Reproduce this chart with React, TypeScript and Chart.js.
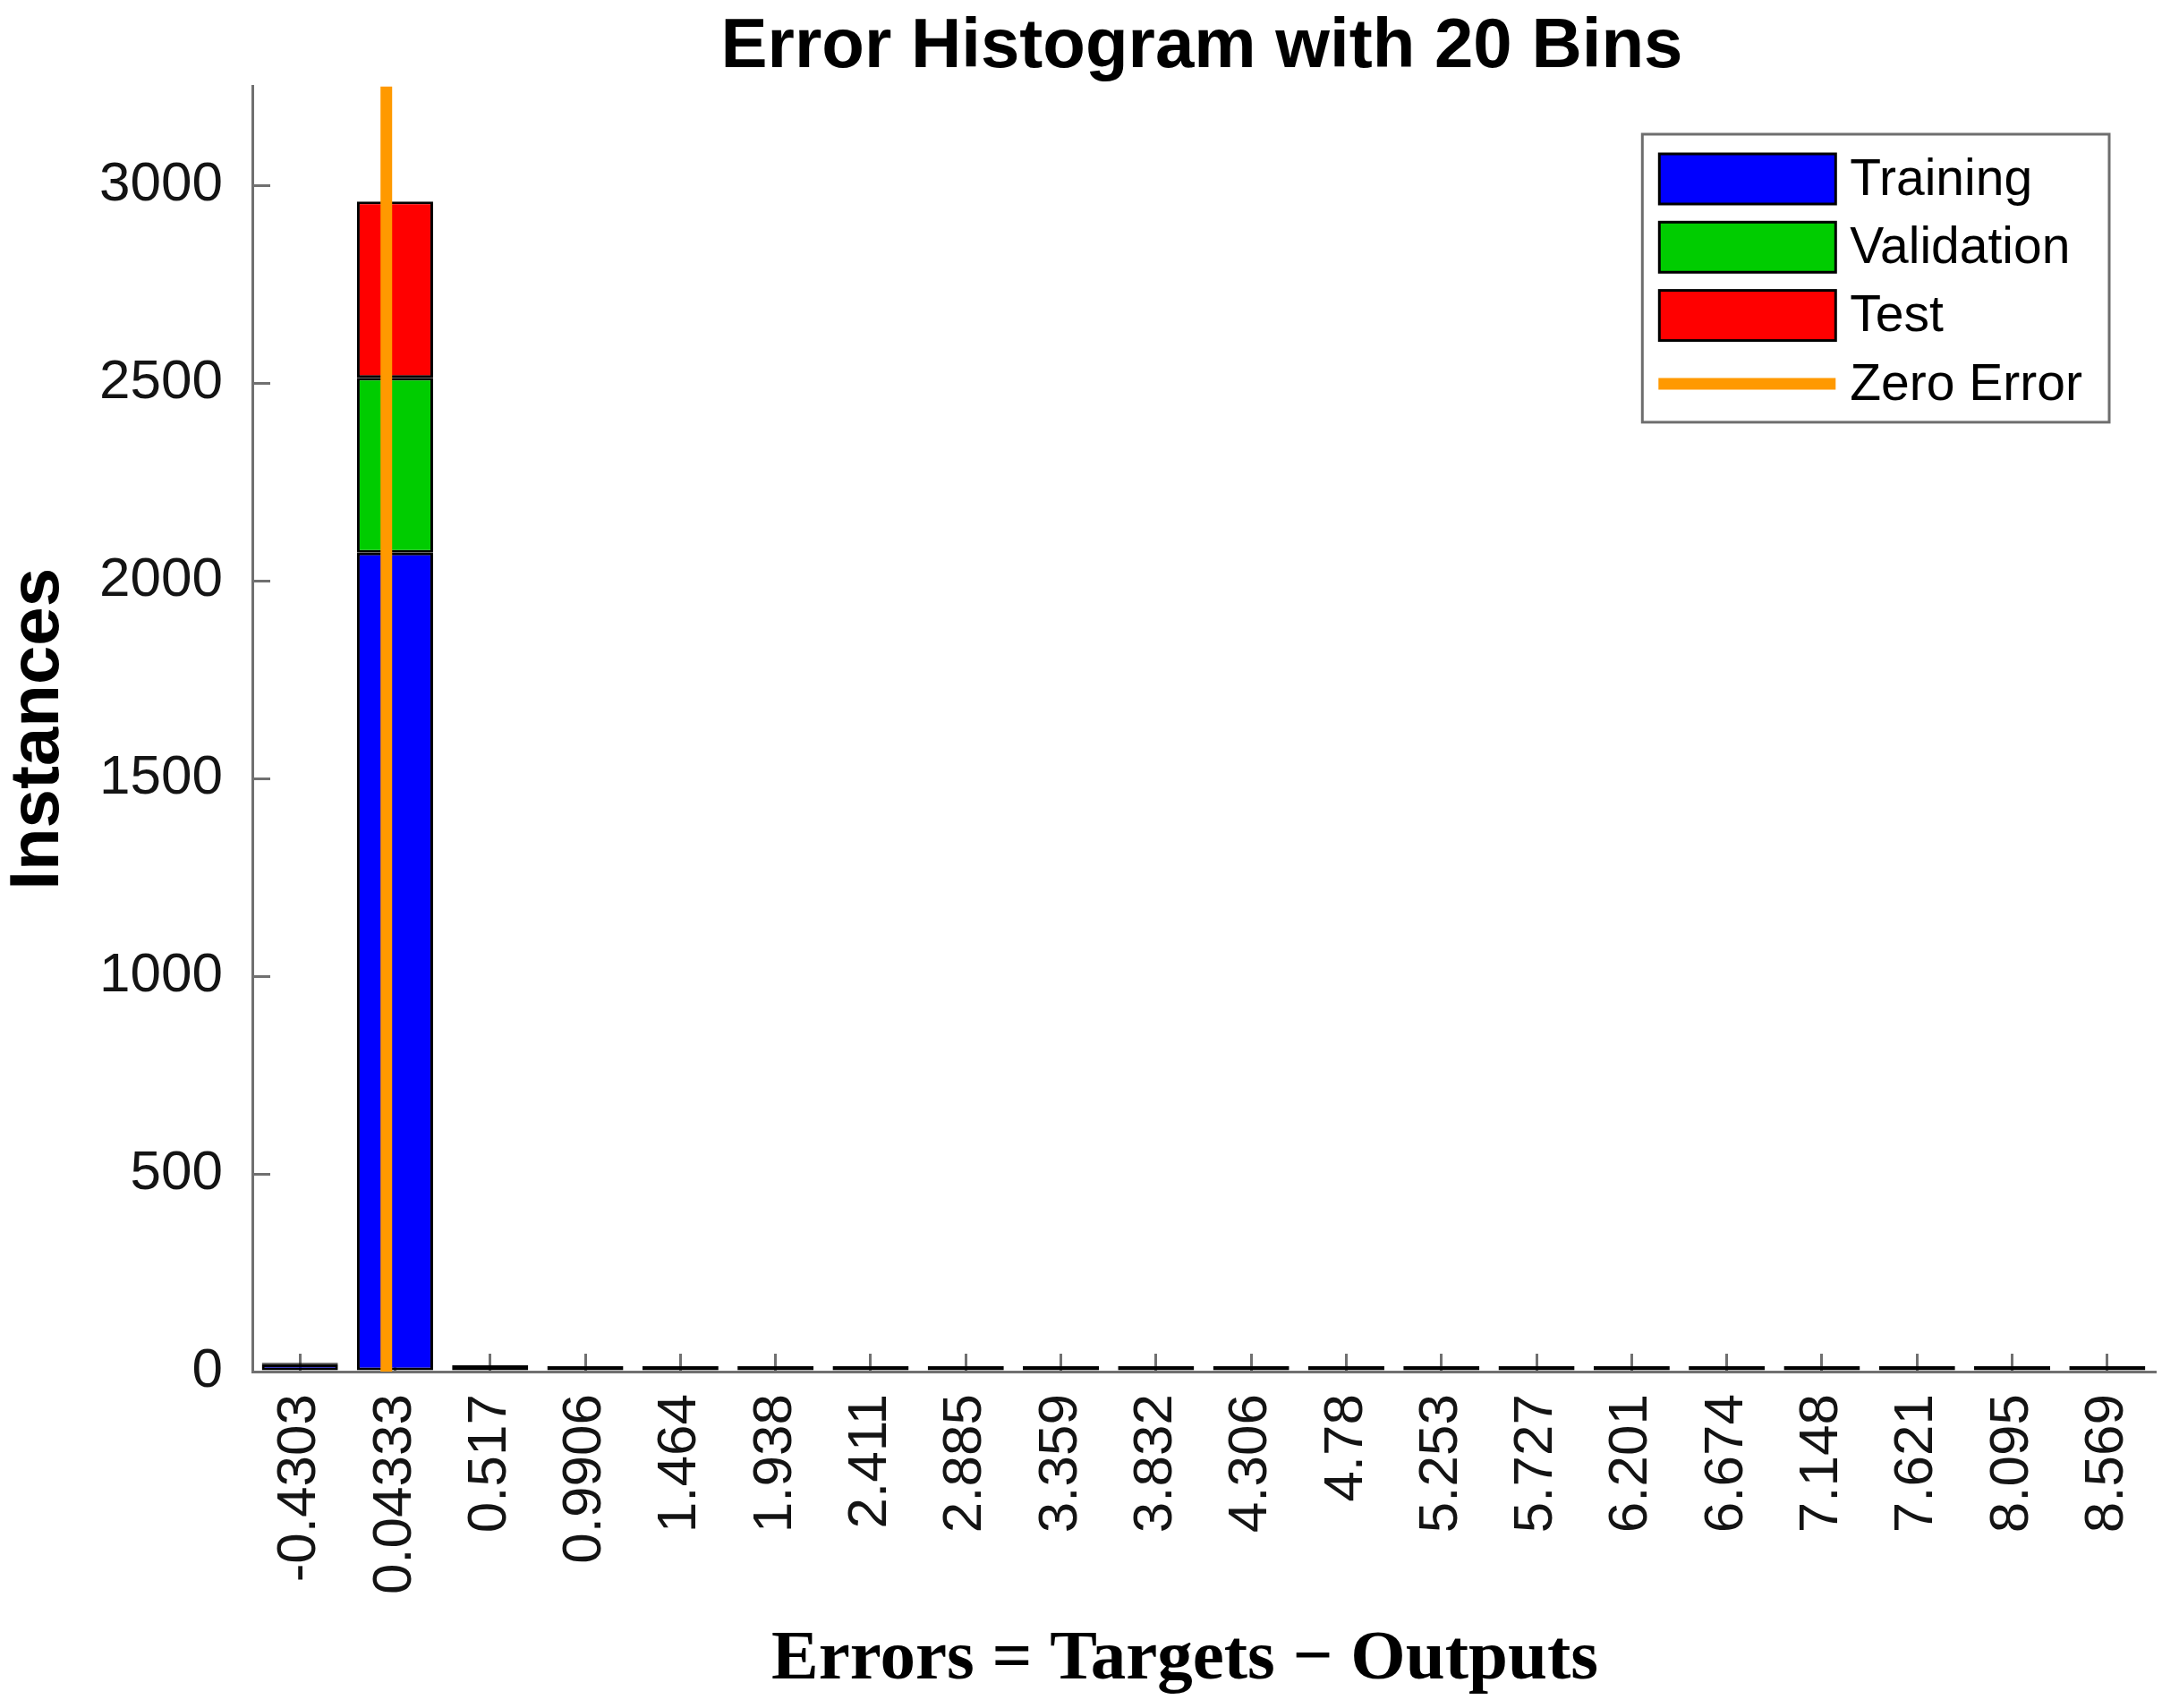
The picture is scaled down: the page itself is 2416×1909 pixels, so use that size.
import { useEffect, useRef } from 'react';
import { Chart, registerables } from 'chart.js';

Chart.register(...registerables);

// ---- data ----
const binLabels = [
  '-0.4303', '0.04333', '0.517', '0.9906', '1.464', '1.938', '2.411', '2.885', '3.359', '3.832',
  '4.306', '4.78', '5.253', '5.727', '6.201', '6.674', '7.148', '7.621', '8.095', '8.569',
];
const trainingCounts = [18, 2071, 12, 0, 0, 0, 0, 0, 0, 0, 0, 0, 0, 0, 0, 0, 0, 0, 0, 0];
const validationCounts = [2, 442, 2, 0, 0, 0, 0, 0, 0, 0, 0, 0, 0, 0, 0, 0, 0, 0, 0, 0];
const testCounts = [2, 446, 1, 0, 0, 0, 0, 0, 0, 0, 0, 0, 0, 0, 0, 0, 0, 0, 0, 0];
const zeroErrorX = 0;
const yTickValues = [0, 500, 1000, 1500, 2000, 2500, 3000];
const yMin = 0;
const yMax = 3250;

const seriesNames = ['Training', 'Validation', 'Test', 'Zero Error'];
const chartTitle = 'Error Histogram with 20 Bins';
const yTitle = 'Instances';
const xTitle = 'Errors = Targets \u2212 Outputs';

const SANS = '"Liberation Sans", Arial, sans-serif';
const SERIF = '"Liberation Serif", "Times New Roman", serif';
const AXIS_GRAY = '#707070';
const TEXT = '#141414';

const titlesPlugin = {
  id: 'titlesPlugin',
  afterDraw(chart: any) {
    const { ctx, chartArea } = chart;
    const cx = (chartArea.left + chartArea.right) / 2;
    ctx.save();
    ctx.fillStyle = '#000000';
    ctx.textAlign = 'center';
    ctx.textBaseline = 'middle';
    ctx.font = `bold 78px ${SANS}`;
    ctx.fillText(chartTitle, cx - 2, 53);
    ctx.font = `bold 79px ${SERIF}`;
    ctx.fillText(xTitle, cx - 21, 1856);
    ctx.restore();
  },
};

const boxLegend = {
  id: 'boxLegend',
  afterDraw(chart: any) {
    const { ctx, chartArea } = chart;
    const fontSize = 57;
    ctx.save();
    ctx.font = `${fontSize}px ${SANS}`;
    const items = chart.data.datasets.map((ds: any) => ({
      label: ds.label,
      fill: ds.backgroundColor,
      stroke: ds.borderColor,
      line: ds.type === 'line',
      lw: ds.borderWidth,
    }));
    const insetL = 19;
    const swW = 197;
    const swH = 56;
    const gap = 16;
    const insetR = 30;
    const rowH = 76.3;
    const firstRow = 50;
    const lastPad = 43;
    let maxText = 0;
    items.forEach((it: any) => {
      maxText = Math.max(maxText, ctx.measureText(it.label).width);
    });
    const width = insetL + swW + gap + maxText + insetR;
    const height = firstRow + rowH * (items.length - 1) + lastPad;
    const right = chartArea.right - 51;
    const left = right - width;
    const top = chartArea.top + 53.4;

    ctx.fillStyle = '#ffffff';
    ctx.fillRect(left, top, width, height);
    ctx.strokeStyle = '#6e6e6e';
    ctx.lineWidth = 3;
    ctx.strokeRect(left, top, width, height);

    items.forEach((it: any, i: number) => {
      const cy = top + firstRow + i * rowH;
      const sx = left + insetL;
      if (it.line) {
        ctx.beginPath();
        ctx.strokeStyle = it.stroke;
        ctx.lineWidth = it.lw;
        ctx.lineCap = 'butt';
        ctx.moveTo(sx - 1, cy);
        ctx.lineTo(sx + swW, cy);
        ctx.stroke();
      } else {
        ctx.fillStyle = it.fill;
        ctx.fillRect(sx, cy - swH / 2, swW, swH);
        ctx.strokeStyle = it.stroke;
        ctx.lineWidth = 3;
        ctx.strokeRect(sx, cy - swH / 2, swW, swH);
      }
      ctx.fillStyle = '#000000';
      ctx.textAlign = 'left';
      ctx.textBaseline = 'middle';
      ctx.fillText(it.label, sx + swW + gap, cy + 2);
    });
    ctx.restore();
  },
};

export default function App() {
  const ref = useRef<HTMLCanvasElement | null>(null);

  useEffect(() => {
    document.body.style.margin = '0';
    const canvas = ref.current;
    if (!canvas) return;

    const centers = binLabels.map(Number);
    const step = (centers[centers.length - 1] - centers[0]) / (centers.length - 1);

    const barCommon = {
      type: 'bar' as const,
      borderColor: '#000000',
      borderWidth: 3,
      borderSkipped: false,
      categoryPercentage: 1,
      barPercentage: 0.8,
      grouped: false,
      stack: 'hist',
      order: 1,
      xAxisID: 'x',
      yAxisID: 'y',
    };

    const chart = new Chart(canvas, {
      type: 'bar',
      data: {
        labels: binLabels,
        datasets: [
          { ...barCommon, label: seriesNames[0], data: trainingCounts, backgroundColor: '#0000ff', minBarLength: 6 },
          { ...barCommon, label: seriesNames[1], data: validationCounts, backgroundColor: '#00cc00' },
          { ...barCommon, label: seriesNames[2], data: testCounts, backgroundColor: '#ff0000' },
          {
            type: 'line',
            label: seriesNames[3],
            data: [
              { x: zeroErrorX, y: yMin },
              { x: zeroErrorX, y: yMax },
            ],
            xAxisID: 'xz',
            yAxisID: 'y',
            stack: 'hist',
            borderColor: '#ff9900',
            backgroundColor: '#ff9900',
            borderWidth: 13,
            borderCapStyle: 'butt',
            pointRadius: 0,
            fill: false,
            order: 0,
          } as any,
        ],
      },
      options: {
        responsive: false,
        animation: false,
        events: [],
        layout: { padding: { left: 0, right: 8, top: 96.6, bottom: 0 } },
        plugins: {
          legend: { display: false },
          tooltip: { enabled: false },
          title: { display: false },
        },
        scales: {
          x: {
            type: 'category',
            stacked: true,
            offset: true,
            grid: {
              display: true,
              drawOnChartArea: false,
              drawTicks: true,
              tickLength: -20,
              offset: false,
              color: AXIS_GRAY,
              lineWidth: 3,
            },
            border: { display: true, color: AXIS_GRAY, width: 3 },
            ticks: {
              autoSkip: false,
              minRotation: 90,
              maxRotation: 90,
              padding: 45,
              color: TEXT,
              font: { family: SANS, size: 62 },
            },
            title: { display: false },
            afterFit(scale: any) {
              scale.height = 376;
              scale.paddingLeft = 0;
              scale.paddingRight = 0;
            },
          },
          xz: {
            type: 'linear',
            display: false,
            offset: false,
            min: centers[0] - step / 2,
            max: centers[centers.length - 1] + step / 2,
          },
          y: {
            type: 'linear',
            stacked: true,
            min: yMin,
            max: yMax,
            grid: {
              display: true,
              drawOnChartArea: false,
              drawTicks: true,
              tickLength: -20,
              color: AXIS_GRAY,
              lineWidth: 3,
            },
            border: { display: true, color: AXIS_GRAY, width: 3 },
            afterBuildTicks(scale: any) {
              scale.ticks = yTickValues.map((v) => ({ value: v }));
            },
            ticks: {
              padding: 53,
              color: TEXT,
              font: { family: SANS, size: 62 },
              callback: (v: any) => String(v),
            },
            title: {
              display: true,
              text: yTitle,
              color: '#000000',
              font: { family: SANS, size: 78, weight: 'bold', lineHeight: 1 },
              padding: { top: 4, bottom: 0 },
            },
            afterFit(scale: any) {
              scale.width = 282;
              scale.paddingTop = 0;
              scale.paddingBottom = 0;
            },
          },
        },
      } as any,
      plugins: [titlesPlugin, boxLegend],
    });

    return () => {
      chart.destroy();
    };
  }, []);

  return (
    <div style={{ width: 2416, height: 1909, background: '#ffffff' }}>
      <canvas ref={ref} width={2416} height={1909} style={{ display: 'block' }} />
    </div>
  );
}
